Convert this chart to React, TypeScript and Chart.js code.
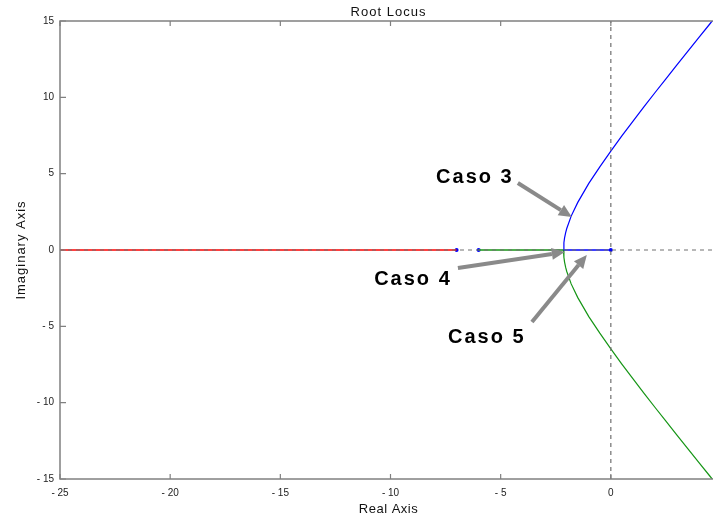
import React, { useEffect, useRef } from "react";
import { Chart, registerables } from "chart.js";

Chart.register(...registerables);

// ---- data ----
const xTicks = [-25, -20, -15, -10, -5, 0, 5];
const yTicks = [-15, -10, -5, 0, 5, 10, 15];

const redRealX = [-25, -7];
const redRealY = [0, 0];
const greenRealX = [-6, -2.15];
const greenRealY = [0, 0];
const blueRealX = [0, -2.15];
const blueRealY = [0, 0];

const branchReal = [-2.15, -2.13, -2.1, -2.05, -2.0, -1.8, -1.5, -1.0, -0.5, 0, 0.5, 1, 1.5, 2, 2.5, 3, 3.5, 4, 4.5, 5];
const upperImag = [0, 0.48, 0.79, 1.14, 1.41, 2.22, 3.12, 4.36, 5.45, 6.48, 7.47, 8.43, 9.37, 10.3, 11.21, 12.12, 13.03, 13.93, 14.82, 15.72];
const lowerImag = [0, -0.48, -0.79, -1.14, -1.41, -2.22, -3.12, -4.36, -5.45, -6.48, -7.47, -8.43, -9.37, -10.3, -11.21, -12.12, -13.03, -13.93, -14.82, -15.72];

const poleX = [-7, -6, 0];
const poleY = [0, 0, 0];

const vGuideX = [0, 0];
const vGuideY = [-15, 15];
const hGuideX = [-25, 5];
const hGuideY = [0, 0];

// annotations: label position, arrow tail, arrow head (data units)
const noteLabels = ["Caso 3", "Caso 4", "Caso 5"];
const noteLabelX = [-6.17, -8.98, -5.63];
const noteLabelY = [4.72, -1.9, -5.7];
const noteTailX = [-4.22, -6.94, -3.58];
const noteTailY = [4.39, -1.18, -4.72];
const noteHeadX = [-1.77, -2.09, -1.09];
const noteHeadY = [2.16, -0.13, -0.33];

const pts = (xs: number[], ys: number[]) => xs.map((x, i) => ({ x, y: ys[i] }));

const overlay = {
  id: "matlabFrame",
  afterDraw(chart: any) {
    const { ctx, chartArea: a, scales } = chart;
    const xs = scales.x, ys = scales.y;
    ctx.save();
    // frame
    ctx.strokeStyle = "#808080";
    ctx.lineWidth = 1.5;
    ctx.strokeRect(a.left, a.top, a.right - a.left, a.bottom - a.top);
    // inward ticks
    ctx.lineWidth = 1.2;
    ctx.beginPath();
    xTicks.forEach((t) => {
      const px = xs.getPixelForValue(t);
      ctx.moveTo(px, a.bottom); ctx.lineTo(px, a.bottom - 5);
      ctx.moveTo(px, a.top); ctx.lineTo(px, a.top + 5);
    });
    yTicks.forEach((t) => {
      const py = ys.getPixelForValue(t);
      ctx.moveTo(a.left, py); ctx.lineTo(a.left + 6, py);
      ctx.moveTo(a.right, py); ctx.lineTo(a.right - 6, py);
    });
    ctx.stroke();

    // titles
    ctx.fillStyle = "#111";
    ctx.textAlign = "center";
    ctx.textBaseline = "middle";
    (ctx as any).letterSpacing = "1px";
    ctx.font = "13px 'Liberation Sans', Arial, sans-serif";
    const cx = (a.left + a.right) / 2;
    ctx.fillText("Root Locus", cx - 2, 12);
    (ctx as any).letterSpacing = "0.5px";
    ctx.fillText("Real Axis", cx - 2, 509);
    ctx.save();
    ctx.translate(21, (a.top + a.bottom) / 2);
    ctx.rotate(-Math.PI / 2);
    (ctx as any).letterSpacing = "1px";
    ctx.fillText("Imaginary Axis", 0, 0);
    ctx.restore();

    // arrows
    ctx.strokeStyle = "#8a8a8a";
    ctx.fillStyle = "#8a8a8a";
    for (let i = 0; i < noteLabels.length; i++) {
      const x1 = xs.getPixelForValue(noteTailX[i]);
      const y1 = ys.getPixelForValue(noteTailY[i]);
      const x2 = xs.getPixelForValue(noteHeadX[i]);
      const y2 = ys.getPixelForValue(noteHeadY[i]);
      const ang = Math.atan2(y2 - y1, x2 - x1);
      const hl = 13, hw = 6;
      const bx = x2 - hl * Math.cos(ang), by = y2 - hl * Math.sin(ang);
      ctx.lineWidth = 4;
      ctx.beginPath();
      ctx.moveTo(x1, y1);
      ctx.lineTo(bx, by);
      ctx.stroke();
      ctx.beginPath();
      ctx.moveTo(x2, y2);
      ctx.lineTo(bx + hw * Math.sin(ang), by - hw * Math.cos(ang));
      ctx.lineTo(bx - hw * Math.sin(ang), by + hw * Math.cos(ang));
      ctx.closePath();
      ctx.fill();
    }
    // labels
    ctx.fillStyle = "#000";
    ctx.font = "bold 20px 'Liberation Sans', Arial, sans-serif";
    (ctx as any).letterSpacing = "2px";
    for (let i = 0; i < noteLabels.length; i++) {
      ctx.fillText(noteLabels[i], xs.getPixelForValue(noteLabelX[i]), ys.getPixelForValue(noteLabelY[i]));
    }
    ctx.restore();
  },
};

export default function App() {
  const ref = useRef<HTMLCanvasElement | null>(null);
  useEffect(() => {
    if (!ref.current) return;
    const line = (data: any, color: string, width = 1.2, dash: number[] = []) => ({
      data,
      showLine: true,
      borderColor: color,
      backgroundColor: color,
      borderWidth: width,
      borderDash: dash,
      pointRadius: 0,
      tension: 0,
    });
    const chart = new Chart(ref.current, {
      type: "scatter",
      data: {
        datasets: [
          line(pts(vGuideX, vGuideY), "#707070", 1.2, [4, 4]),
          line(pts(hGuideX, hGuideY), "#707070", 1.2, [4, 4]),
          line(pts(redRealX, redRealY), "#ff0000", 1.5),
          line(pts(greenRealX, greenRealY), "#159515", 1.5),
          line(pts(blueRealX, blueRealY), "#0000ff", 1.5),
          line(pts(branchReal, upperImag), "#0000ff", 1.2),
          line(pts(branchReal, lowerImag), "#159515", 1.2),
          {
            data: pts(poleX, poleY),
            showLine: false,
            pointRadius: 2,
            pointBorderWidth: 0,
            pointBackgroundColor: "#0000ff",
            backgroundColor: "#0000ff",
          },
        ],
      },
      options: {
        responsive: false,
        animation: false,
        events: [],
        layout: { padding: { top: 21, right: 19, left: 0, bottom: 0 } },
        plugins: { legend: { display: false }, tooltip: { enabled: false }, title: { display: false } },
        scales: {
          x: {
            type: "linear",
            min: -25,
            max: 5,
            afterFit: (s: any) => { s.height = 40; },
            afterBuildTicks: (s: any) => { s.ticks = xTicks.map((v) => ({ value: v })); },
            grid: { display: false, drawTicks: false },
            border: { display: false },
            ticks: {
              padding: 8,
              color: "#222",
              font: { size: 10, family: "'Liberation Sans', Arial, sans-serif" },
              callback: (v: any) => (v < 0 ? "- " + Math.abs(v) : String(v)),
            },
          },
          y: {
            type: "linear",
            min: -15,
            max: 15,
            afterFit: (s: any) => { s.width = 60; },
            afterBuildTicks: (s: any) => { s.ticks = yTicks.map((v) => ({ value: v })); },
            grid: { display: false, drawTicks: false },
            border: { display: false },
            ticks: {
              padding: 6,
              color: "#222",
              font: { size: 10, family: "'Liberation Sans', Arial, sans-serif" },
              callback: (v: any) => (v < 0 ? "- " + Math.abs(v) : String(v)),
            },
          },
        },
      },
      plugins: [overlay],
    } as any);
    return () => chart.destroy();
  }, []);
  return (
    <div style={{ position: "fixed", left: 0, top: 0, width: 713, height: 519, overflow: "hidden", background: "#fff" }}>
      <canvas ref={ref} width={740} height={519} style={{ display: "block", width: 740, height: 519 }} />
    </div>
  );
}
